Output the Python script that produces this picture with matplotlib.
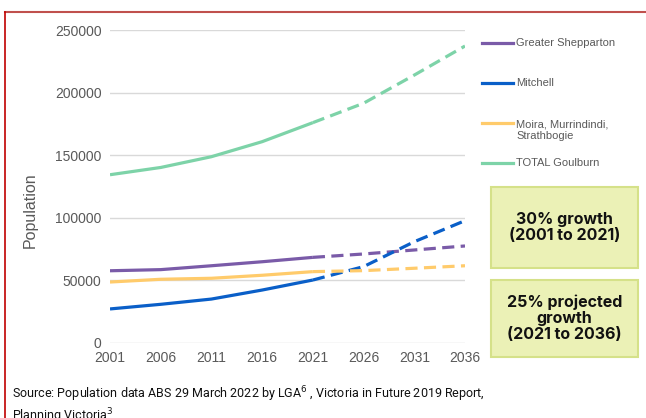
import matplotlib
matplotlib.use("Agg")
import matplotlib.pyplot as plt
from matplotlib.lines import Line2D
from matplotlib.patches import Rectangle

plt.rcParams['font.family'] = ['Liberation Sans', 'DejaVu Sans']

years = [2001, 2006, 2011, 2016, 2021, 2026, 2031, 2036]
shepparton = [57700, 58600, 61700, 64900, 68400, 71100, 74300, 77500]
mitchell = [27200, 30900, 35100, 42300, 50300, 61000, 80900, 97700]
moira = [48700, 50900, 51700, 54100, 57000, 57800, 59700, 61700]
goulburn = [134400, 140200, 148800, 160800, 176000, 191500, 214000, 237200]

names = ["Greater Shepparton", "Mitchell", "Moira, Murrindindi,\nStrathbogie", "TOTAL Goulburn"]
colors = ["#7A5BA8", "#0A5FC8", "#FFCB6B", "#7DD3A8"]
series = [shepparton, mitchell, moira, goulburn]
split = years.index(2021)

fig = plt.figure(figsize=(6.46, 4.18), dpi=100)
ax = fig.add_axes([110 / 646, 1 - 343 / 418, 355 / 646, 313 / 418])

for vals, col in zip(series, colors):
    ax.plot(years[:split + 1], vals[:split + 1], color=col, lw=2.3, solid_capstyle='butt')
    ax.plot(years[split:], vals[split:], color=col, lw=2.3, dashes=(3.8, 2))

ax.set_xlim(2001, 2036)
ax.set_ylim(0, 250000)
ax.set_xticks(years)
ax.set_yticks(range(0, 250001, 50000))
ax.grid(axis='y', color='#D9D9D9', lw=1)
ax.set_axisbelow(True)
for s in ax.spines.values():
    s.set_visible(False)
ax.tick_params(length=0, labelsize=10, labelcolor='#595959', pad=6)
ax.set_ylabel("Population", fontsize=11.5, color='#595959')
ax.yaxis.set_label_coords(-0.203, 0.425)

# legend drawn to the right
leg_y = [43, 83, 130, 163]
for name, col, y in zip(names, colors, leg_y):
    hy = y if "\n" not in name else y - 7
    fig.add_artist(Line2D([482 / 646, 513 / 646], [1 - hy / 418] * 2, color=col, lw=2.3))
    fig.text(516 / 646, 1 - y / 418, name, fontsize=8, color='#595959', va='center',
             linespacing=1.15)

# growth boxes
boxes = [(187, 268, "30% growth\n(2001 to 2021)"),
         (280, 357, "25% projected\ngrowth\n(2021 to 2036)")]
for top, bot, txt in boxes:
    fig.add_artist(Rectangle((491 / 646, 1 - bot / 418), 147 / 646, (bot - top) / 418,
                             transform=fig.transFigure, facecolor='#EBF1B6',
                             edgecolor='#D5E189', lw=1.5))
    fig.text(564.5 / 646, 1 - (top + bot) / 2 / 418, txt, ha='center', va='center',
             fontsize=11.5, fontweight='bold', family=['Inter', 'DejaVu Sans'],
             linespacing=1.1, color='#111111')

fig.text(12 / 646, 1 - 405 / 418,
         "Source: Population data ABS 29 March 2022 by LGA$^{6}$ , Victoria in Future 2019 Report,\nPlanning Victoria$^{3}$",
         fontsize=9, color='#111111', va='center', linespacing=1.15,
         family=['Roboto', 'DejaVu Sans'])

# frame
fig.add_artist(Line2D([5 / 646, 1], [1 - 12 / 418] * 2, color='#C0504D', lw=1.5))
fig.add_artist(Line2D([5 / 646] * 2, [0, 1 - 12 / 418], color='#C00000', lw=1.2))

fig.savefig("out.png", dpi=100)
